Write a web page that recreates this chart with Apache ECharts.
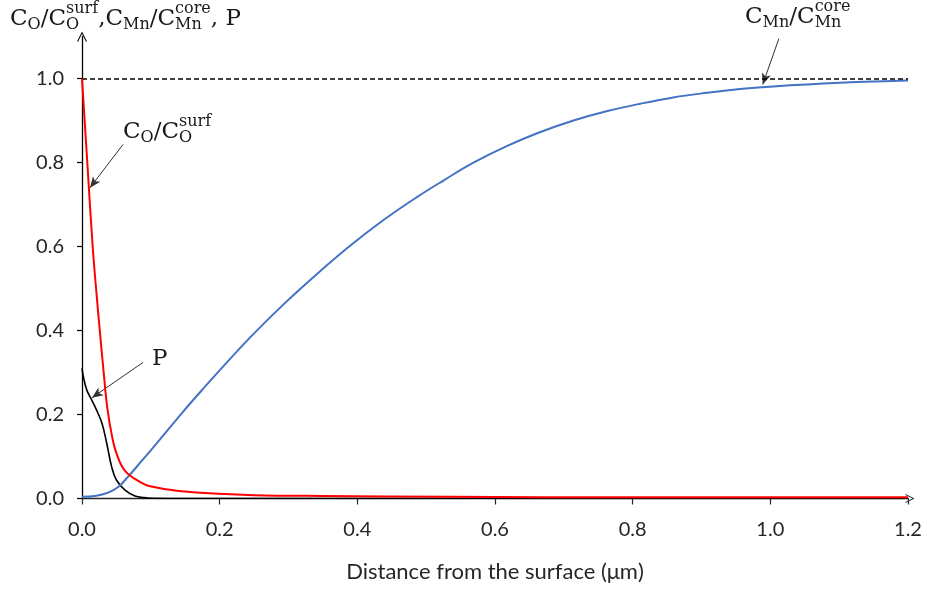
<!DOCTYPE html>
<html>
<head>
<meta charset="utf-8">
<script src="https://cdn.jsdelivr.net/npm/echarts@6/dist/echarts.min.js"></script>
<style>html,body{margin:0;padding:0;background:#fff}#c{width:927px;height:589px}</style>
</head>
<body>
<div id="c"></div>
<script>
// ---- Data ----
const xTicks = [0, 0.2, 0.4, 0.6, 0.8, 1.0, 1.2];
const yTicks = [0, 0.2, 0.4, 0.6, 0.8, 1.0];

const oxX = [0, 0.0077, 0.0155, 0.0215, 0.026, 0.0315, 0.0368, 0.044, 0.050, 0.0625, 0.0867, 0.099, 0.135, 0.179, 0.25, 0.35, 0.535, 0.8, 1.0, 1.2];
const oxY = [1.0, 0.8, 0.6, 0.48, 0.397, 0.30, 0.215, 0.145, 0.108, 0.066, 0.037, 0.029, 0.019, 0.013, 0.008, 0.006, 0.004, 0.003, 0.003, 0.003];

const pX = [0, 0.002, 0.007, 0.014, 0.021, 0.029, 0.036, 0.043, 0.050, 0.0625, 0.077, 0.09, 0.101, 0.15, 1.2];
const pY = [0.31, 0.29, 0.258, 0.235, 0.211, 0.179, 0.131, 0.076, 0.044, 0.020, 0.006, 0.002, 0.0005, 0, 0];

const mnX = [0, 0.019, 0.038, 0.053, 0.067, 0.087, 0.099, 0.116, 0.147, 0.179, 0.196, 0.244, 0.292, 0.341, 0.389, 0.438, 0.486, 0.525, 0.568, 0.617, 0.665, 0.714, 0.762, 0.811, 0.859, 0.908, 0.956, 1.004, 1.053, 1.101, 1.150, 1.2];
const mnY = [0.004, 0.006, 0.014, 0.028, 0.052, 0.090, 0.113, 0.146, 0.207, 0.267, 0.298, 0.383, 0.461, 0.534, 0.601, 0.663, 0.717, 0.757, 0.799, 0.839, 0.872, 0.900, 0.922, 0.940, 0.955, 0.966, 0.975, 0.981, 0.986, 0.990, 0.993, 0.995];

const refLevel = 1.0;
// annotation arrows [from, to] in data units
const arrowO = [[0.0596, 0.843], [0.0116, 0.740]];
const arrowP = [[0.0887, 0.324], [0.0145, 0.240]];
const arrowMn = [[1.0124, 1.095], [0.989, 0.986]];

const xName = 'Distance from the surface (\u03bcm)';

// ---- helpers ----
const zip = (a, b) => a.map((v, i) => [v, b[i]]);
const SERIF = '"DejaVu Serif", serif';
const MAIN = 23, SMALL = 16;
const ctx = document.createElement('canvas').getContext('2d');
function tw(t, size) { ctx.font = size + 'px ' + SERIF; return ctx.measureText(t).width; }
function txt(x, base, t, size) {
  return { type: 'text', x: x, y: base - 0.3 * size, silent: true,
    style: { text: t, font: size + 'px ' + SERIF, fill: '#1a1a1a', align: 'left', verticalAlign: 'middle' } };
}
function mathLabel(x0, base, parts) {
  const els = []; let x = x0;
  parts.forEach(p => {
    if (p[0] === 'm') { els.push(txt(x, base, p[1], MAIN)); x += tw(p[1], MAIN); }
    else if (p[0] === 'b') { els.push(txt(x, base + 4, p[1], SMALL)); x += tw(p[1], SMALL); }
    else { els.push(txt(x, base - 12, p[1], SMALL)); els.push(txt(x, base + 4, p[2], SMALL));
      x += Math.max(tw(p[1], SMALL), tw(p[2], SMALL)); }
  });
  return els;
}
const labelY = [['m','C'],['b','O'],['m','/C'],['ss','surf','O'],['m',',C'],['b','Mn'],['m','/C'],['ss','core','Mn'],['m',', P']];
const labelO = [['m','C'],['b','O'],['m','/C'],['ss','surf','O']];
const labelMn = [['m','C'],['b','Mn'],['m','/C'],['ss','core','Mn']];

const chevron = 'path://M0,10 L5,0 L10,10 L8.8,10 L5,2.2 L1.2,10 Z';

function arrowLine(a) {
  return [{ coord: a[0], symbol: 'none' }, { coord: a[1], symbol: 'arrow' }];
}

const chart = echarts.init(document.getElementById('c'), null, { renderer: 'canvas' });
chart.setOption({
  animation: false,
  backgroundColor: '#fff',
  grid: { left: 82, right: 19, top: 36.5, bottom: 90.5 },
  xAxis: {
    type: 'value', min: 0, max: 1.2, interval: 0.2,
    name: xName, nameLocation: 'middle', nameGap: 62,
    nameTextStyle: { fontFamily: 'Lato', fontSize: 22, color: '#262626' },
    axisLine: { lineStyle: { color: '#262626', width: 1.3 }, symbol: ['none', chevron], symbolSize: [9, 9], symbolOffset: [0, 2] },
    axisTick: { show: true, length: 6, lineStyle: { color: '#262626', width: 1.2 } },
    axisLabel: { fontFamily: 'Lato', fontSize: 20, color: '#262626', margin: 21, formatter: v => v.toFixed(1) },
    splitLine: { show: false }
  },
  yAxis: {
    type: 'value', min: 0, max: 1.1,
    axisLine: { show: true, lineStyle: { color: '#000', width: 1.3 }, symbol: ['none', chevron], symbolSize: [10, 10], symbolOffset: [0, 0] },
    axisTick: { show: true, length: 5, customValues: yTicks, lineStyle: { color: '#000', width: 1.2 } },
    axisLabel: { fontFamily: 'Lato', fontSize: 20, color: '#262626', margin: 18, customValues: yTicks, formatter: v => v.toFixed(1) },
    splitLine: { show: false }
  },
  series: [
    {
      name: 'P', type: 'line', data: zip(pX, pY), showSymbol: false, smooth: 0.4,
      lineStyle: { color: '#000', width: 1.6 }, z: 3,
      markLine: {
        silent: true, symbolSize: [7, 11], label: { show: false },
        lineStyle: { color: '#333', width: 1, type: 'solid' },
        data: [arrowLine(arrowP), arrowLine(arrowO), arrowLine(arrowMn)]
      }
    },
    {
      name: 'Mn', type: 'line', data: zip(mnX, mnY), showSymbol: false, smooth: 0.4,
      lineStyle: { color: '#4472C4', width: 2 }, z: 4,
      markLine: {
        silent: true, symbol: ['none', 'none'], label: { show: false },
        lineStyle: { color: '#000', width: 1.5, type: [5, 3] },
        data: [{ yAxis: refLevel }]
      }
    },
    {
      name: 'O', type: 'line', data: zip(oxX, oxY), showSymbol: false, smooth: 0.4,
      lineStyle: { color: '#FF0000', width: 2 }, z: 5
    }
  ],
  graphic: [].concat(
    mathLabel(10, 26, labelY),
    mathLabel(123, 139, labelO),
    mathLabel(745, 24, labelMn),
    [txt(152, 366, 'P', MAIN)]
  )
});
</script>
</body>
</html>
